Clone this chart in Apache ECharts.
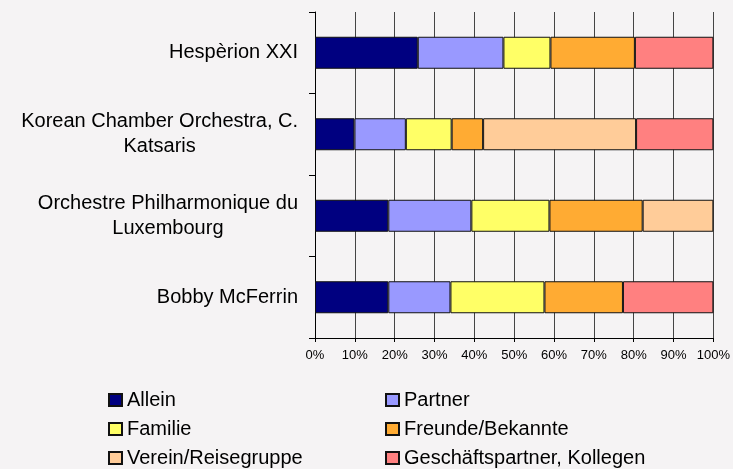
<!DOCTYPE html>
<html>
<head>
<meta charset="utf-8">
<script src="https://cdn.jsdelivr.net/npm/echarts@6/dist/echarts.min.js"></script>
<style>
html,body{margin:0;padding:0;background:#f5f3f4;}
#chart{width:733px;height:469px;}
</style>
</head>
<body>
<div id="chart"></div>
<script>
// Kategorien von oben nach unten
let categories = ['Hespèrion XXI', 'Korean Chamber Orchestra, C.\nKatsaris', 'Orchestre Philharmonique du\nLuxembourg', 'Bobby McFerrin'];
let xTicks = ['0%','10%','20%','30%','40%','50%','60%','70%','80%','90%','100%'];
// Anteile in Prozent je Kategorie
let allein    = [25.8, 9.9, 18.4, 18.4];
let partner   = [21.5, 12.9, 20.85, 15.6];
let familie   = [11.8, 11.5, 19.6, 23.6];
let freunde   = [21.2, 7.9, 23.4, 19.7];
let verein    = [0, 38.4, 17.75, 0];
let geschaeft = [19.7, 19.4, 0, 22.7];

let seriesNames = ['Allein','Partner','Familie','Freunde/Bekannte','Verein/Reisegruppe','Geschäftspartner, Kollegen'];
let seriesData = [allein, partner, familie, freunde, verein, geschaeft];
let seriesColors = ['#000080','#9999ff','#ffff66','#ffab33','#ffcc99','#ff8080'];

let font = '"Liberation Sans", Arial, sans-serif';
let chart = echarts.init(document.getElementById('chart'));

let series = [];
for (let i = 0; i < seriesNames.length; i++) {
    series.push({
        name: seriesNames[i],
        type: 'bar',
        stack: 'total',
        barWidth: 32,
        itemStyle: { color: seriesColors[i], borderColor: '#111', borderWidth: 1 },
        emphasis: { disabled: true },
        data: seriesData[i].map(function (v) { return v === 0 ? '-' : v; })
    });
}

let legendBase = {
    orient: 'vertical',
    top: 390,
    height: 80,
    padding: 0,
    icon: 'rect',
    itemWidth: 13,
    itemHeight: 12,
    itemGap: 9,
    selectedMode: false,
    textStyle: { fontFamily: font, fontSize: 20, color: '#000', lineHeight: 20 }
};

option = {
    backgroundColor: '#f5f3f4',
    animation: false,
    grid: { left: 315, right: 18, top: 12, bottom: 131, containLabel: false },
    legend: [
        Object.assign({ left: 108, data: ['Allein','Familie','Verein/Reisegruppe'] }, legendBase),
        Object.assign({ left: 385, data: ['Partner','Freunde/Bekannte','Geschäftspartner, Kollegen'] }, legendBase)
    ],
    xAxis: {
        type: 'value',
        min: 0,
        max: 100,
        interval: 10,
        axisLine: { show: true, lineStyle: { color: '#000', width: 1 } },
        axisTick: { show: true, length: 4, lineStyle: { color: '#000' } },
        axisLabel: {
            margin: 11,
            fontFamily: font,
            fontSize: 13,
            color: '#000',
            formatter: function (v) { return xTicks[Math.round(v / 10)]; }
        },
        splitLine: { show: true, lineStyle: { color: '#444', width: 1 } }
    },
    yAxis: {
        type: 'category',
        inverse: true,
        data: categories,
        axisLine: { show: true, lineStyle: { color: '#000', width: 1 } },
        axisTick: { show: true, length: 6, lineStyle: { color: '#000' } },
        axisLabel: {
            margin: 17,
            align: 'right',
            fontFamily: font,
            fontSize: 20,
            color: '#000',
            lineHeight: 25,
            formatter: function (v) {
                return v.split('\n').map(function (s) { return '{c|' + s + '}'; }).join('\n');
            },
            rich: { c: { align: 'center', fontFamily: font, fontSize: 20, color: '#000', lineHeight: 25 } }
        }
    },
    series: series
};
chart.setOption(option);
</script>
</body>
</html>
